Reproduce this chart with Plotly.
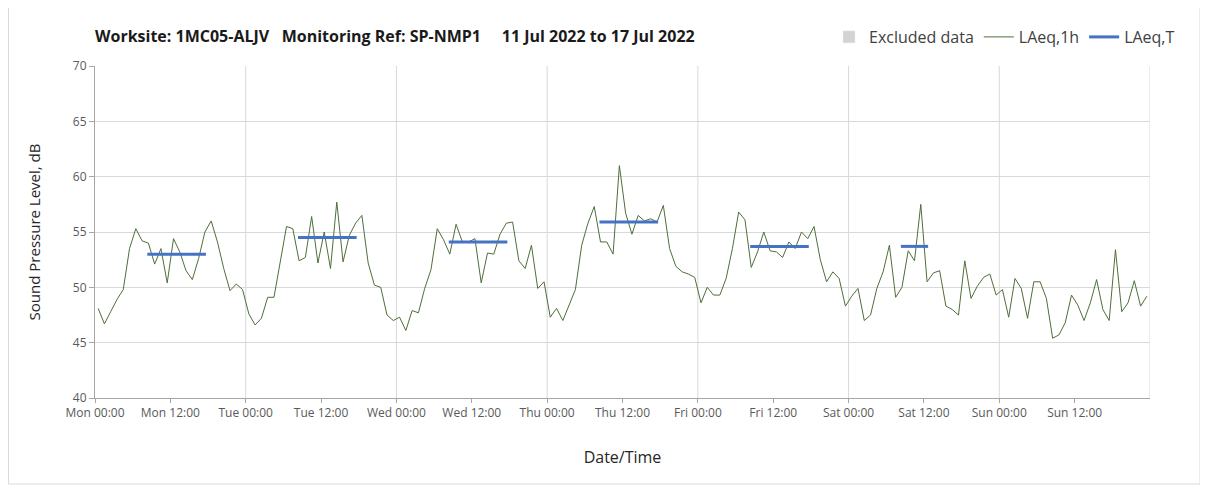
import pandas as pd
import plotly.graph_objects as go

# ---- data ----
START = "2022-07-11 00:30"
LAEQ_1H = [
    # Mon
    48.1, 46.7, 47.8, 48.9, 49.8, 53.5, 55.3, 54.2, 54.0, 52.1, 53.5, 50.4,
    54.4, 53.2, 51.5, 50.7, 52.6, 55.0, 56.0, 54.1, 51.7, 49.7, 50.3, 49.8,
    # Tue
    47.6, 46.6, 47.2, 49.1, 49.1, 52.3, 55.5, 55.3, 52.4, 52.7, 56.4, 52.2,
    55.0, 51.7, 57.7, 52.3, 54.7, 55.8, 56.5, 52.2, 50.2, 50.0, 47.5, 47.0,
    # Wed
    47.3, 46.1, 47.9, 47.7, 49.9, 51.6, 55.3, 54.3, 53.0, 55.7, 54.1, 54.1,
    54.4, 50.4, 53.1, 53.0, 54.8, 55.8, 55.9, 52.4, 51.7, 53.8, 49.9, 50.5,
    # Thu
    47.3, 48.1, 47.0, 48.4, 49.8, 53.8, 55.8, 57.3, 54.1, 54.1, 53.0, 61.0,
    56.7, 54.8, 56.5, 56.0, 56.2, 55.9, 57.4, 53.5, 51.9, 51.4, 51.2, 50.9,
    # Fri
    48.6, 50.0, 49.3, 49.3, 50.8, 53.5, 56.8, 56.1, 51.8, 53.2, 55.0, 53.3,
    53.2, 52.7, 54.1, 53.5, 55.0, 54.4, 55.5, 52.5, 50.5, 51.4, 50.8, 48.3,
    # Sat
    49.2, 49.9, 47.0, 47.5, 49.9, 51.4, 53.8, 49.1, 50.0, 53.3, 52.4, 57.5,
    50.5, 51.3, 51.5, 48.3, 48.0, 47.5, 52.4, 49.0, 50.1, 50.9, 51.2, 49.3,
    # Sun
    49.8, 47.3, 50.8, 49.9, 47.2, 50.5, 50.5, 49.0, 45.4, 45.7, 46.8, 49.3,
    48.4, 47.0, 48.6, 50.7, 48.0, 47.0, 53.4, 47.8, 48.6, 50.6, 48.3, 49.2,
]

LAEQ_T_START = ["2022-07-11 08:20", "2022-07-12 08:20", "2022-07-13 08:20",
                "2022-07-14 08:20", "2022-07-15 08:20", "2022-07-16 08:20"]
LAEQ_T_END = ["2022-07-11 17:40", "2022-07-12 17:40", "2022-07-13 17:40",
              "2022-07-14 17:40", "2022-07-15 17:40", "2022-07-16 12:40"]
LAEQ_T = [53.0, 54.5, 54.1, 55.9, 53.7, 53.7]

TICK_VALS = ["2022-07-11 00:00", "2022-07-11 12:00", "2022-07-12 00:00", "2022-07-12 12:00",
             "2022-07-13 00:00", "2022-07-13 12:00", "2022-07-14 00:00", "2022-07-14 12:00",
             "2022-07-15 00:00", "2022-07-15 12:00", "2022-07-16 00:00", "2022-07-16 12:00",
             "2022-07-17 00:00", "2022-07-17 12:00"]
TICK_TEXT = ["Mon 00:00", "Mon 12:00", "Tue 00:00", "Tue 12:00", "Wed 00:00", "Wed 12:00",
             "Thu 00:00", "Thu 12:00", "Fri 00:00", "Fri 12:00", "Sat 00:00", "Sat 12:00",
             "Sun 00:00", "Sun 12:00"]
DAY_LINES = ["2022-07-12", "2022-07-13", "2022-07-14", "2022-07-15",
             "2022-07-16", "2022-07-17", "2022-07-18"]
X_RANGE = ["2022-07-11 00:00", "2022-07-18 00:00"]
Y_RANGE = [40, 70]

TITLE = ("<b>Worksite: 1MC05-ALJV&nbsp;&nbsp; Monitoring Ref: SP-NMP1"
         "&nbsp;&nbsp;&nbsp;&nbsp; 11 Jul 2022 to 17 Jul 2022</b>")

times = pd.date_range(START, periods=len(LAEQ_1H), freq="h")

# blue period segments separated by gaps
tx, ty = [], []
for s, e, v in zip(LAEQ_T_START, LAEQ_T_END, LAEQ_T):
    tx += [s, e, None]
    ty += [v, v, None]

FONT = "Open Sans, Noto Sans, sans-serif"
GRID = "#D9D9D9"

fig = go.Figure()
fig.add_trace(go.Bar(x=[None], y=[None], name="Excluded data",
                     marker=dict(color="#D3D3D3"), showlegend=True))
fig.add_trace(go.Scatter(x=times, y=LAEQ_1H, mode="lines", name="LAeq,1h",
                         line=dict(color="#4E6E3A", width=1)))
fig.add_trace(go.Scatter(x=tx, y=ty, mode="lines", name="LAeq,T",
                         line=dict(color="#4472C4", width=3), connectgaps=False))

# figure geometry (figure coordinates; page adds an 8px body offset)
W, H = 1208, 492
L, R, T, B = 87, 66, 58, 102
pw, ph = W - L - R, H - T - B
def px(x):
    return (x - L) / pw
def py(y):
    return (H - B - y) / ph

shapes = []
for d in DAY_LINES:
    shapes.append(dict(type="line", xref="x", yref="paper", x0=d, x1=d, y0=0, y1=1,
                       line=dict(color=GRID, width=1), layer="below"))
# outer chart frame (left, bottom, right)
shapes.append(dict(type="path", xref="paper", yref="paper",
                   path=f"M {px(0.5)},{py(-2)} L {px(0.5)},{py(476)} L {px(1192)},{py(476)} L {px(1192)},{py(-2)}",
                   line=dict(color="#DADADA", width=1), layer="below"))

fig.update_layout(
    width=W, height=H,
    margin=dict(l=L, r=R, t=T, b=B, autoexpand=False),
    paper_bgcolor="white", plot_bgcolor="white",
    font=dict(family=FONT, color="#404040"),
    title=dict(text=TITLE, x=L / W, xref="container", xanchor="left",
               y=1 - 28 / H, yref="container", yanchor="middle",
               font=dict(size=16, color="#1A1A1A", family=FONT)),
    legend=dict(orientation="h", x=px(1172), xanchor="right", y=py(29), yanchor="middle",
                font=dict(size=16, color="#404040"), bgcolor="rgba(0,0,0,0)",
                itemwidth=30, tracegroupgap=0),
    shapes=shapes,
    showlegend=True,
)
fig.update_xaxes(
    type="date", range=X_RANGE, tickvals=TICK_VALS, ticktext=TICK_TEXT,
    showgrid=False, showline=True, linecolor="#A6A6A6", linewidth=1,
    ticks="outside", ticklen=4, tickcolor="#A6A6A6",
    tickfont=dict(size=12, color="#595959"),
    title=dict(text="Date/Time", font=dict(size=16, color="#262626"), standoff=31),
    mirror=False, zeroline=False,
)
fig.update_yaxes(
    range=Y_RANGE, dtick=5, tick0=40,
    showgrid=True, gridcolor=GRID, gridwidth=1,
    showline=True, linecolor="#A6A6A6", linewidth=1,
    ticks="outside", ticklen=5, tickcolor="#A6A6A6",
    tickfont=dict(size=12, color="#595959"),
    title=dict(text="Sound Pressure Level, dB", font=dict(size=15, color="#262626"), standoff=28),
    zeroline=False,
)

fig.write_html("out.html")
